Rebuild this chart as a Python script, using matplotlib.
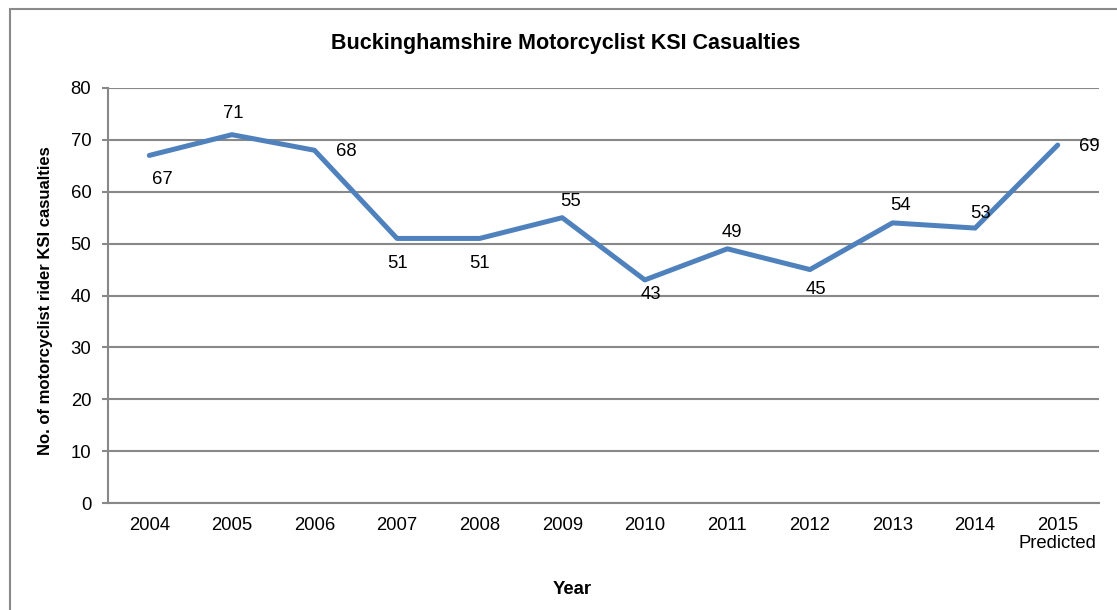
import matplotlib
matplotlib.use("Agg")
import matplotlib.pyplot as plt
from matplotlib.patches import Rectangle

plt.rcParams['font.family'] = ['Liberation Sans', 'DejaVu Sans']

categories = ['2004', '2005', '2006', '2007', '2008', '2009', '2010', '2011',
              '2012', '2013', '2014', '2015\nPredicted']
values = [67, 71, 68, 51, 51, 55, 43, 49, 45, 54, 53, 69]
# label offsets in pixels (style only)
label_offsets = [(13, -24), (1, 21), (32, -1), (0, -25), (0, -25), (8, 16),
                 (6, -15), (5, 16), (6, -20), (8, 17), (5, 15), (32, -1)]

W, H = 1117, 610
fig = plt.figure(figsize=(W / 100, H / 100), dpi=100)
ax = fig.add_axes([108 / W, 1 - 503 / H, (1099 - 108) / W, (503 - 88) / H])

grid_c = '#888888'
FS = 13.3
x = list(range(len(categories)))
ax.plot(x, values, color='#4F81BD', lw=3.6, solid_capstyle='round',
        solid_joinstyle='round', zorder=3)

for xi, v, (dx, dy) in zip(x, values, label_offsets):
    ax.annotate(str(v), (xi, v), xytext=(dx, dy), textcoords='offset pixels',
                ha='center', va='center', fontsize=FS, color='black', zorder=4)

ax.set_xlim(-0.5, len(categories) - 0.5)
ax.set_ylim(0, 80)
ax.set_yticks(range(0, 81, 10))
ax.set_xticks(x)
ax.set_xticklabels(categories, fontsize=FS, linespacing=1.1)
ax.tick_params(axis='y', labelsize=FS, length=4, color=grid_c, width=1.5, pad=8)
ax.tick_params(axis='x', length=0, pad=10)
ax.yaxis.grid(True, color=grid_c, lw=1.5)
ax.set_axisbelow(True)
for s in ['top', 'right']:
    ax.spines[s].set_visible(False)
for s in ['left', 'bottom']:
    ax.spines[s].set_color(grid_c)
    ax.spines[s].set_linewidth(1.5)

fig.text(46 / W, 1 - 301 / H, 'No. of motorcyclist rider KSI casualties',
         rotation=90, ha='center', va='center', fontsize=12, fontweight='bold')
fig.text(572 / W, 1 - 589 / H, 'Year', ha='center', va='center',
         fontsize=13.3, fontweight='bold')
fig.text(566 / W, 1 - 44 / H, 'Buckinghamshire Motorcyclist KSI Casualties',
         ha='center', va='center', fontsize=15.5, fontweight='bold')

fig.patches.append(Rectangle((10 / W, -0.05), 1.2, 1 - 9 / H + 0.05,
                             transform=fig.transFigure, fill=False,
                             edgecolor='#8a8a8a', lw=1.5))

fig.savefig('out.png', dpi=100)
